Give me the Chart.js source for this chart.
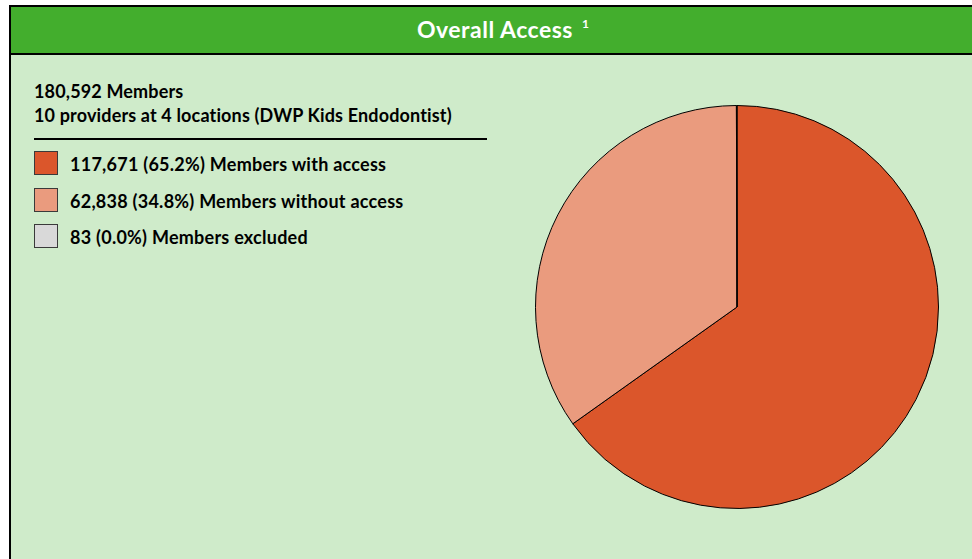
<!DOCTYPE html>
<html>
<head>
<meta charset="utf-8">
<script src="https://cdn.jsdelivr.net/npm/chart.js@4/dist/chart.umd.min.js"></script>
<style>
  html, body { margin: 0; padding: 0; }
  body { width: 972px; height: 559px; overflow: hidden; background: #fff; position: relative;
         font-family: Lato, "Open Sans", sans-serif; font-weight: bold; color: #000; }
  .panel { position: absolute; left: 9px; top: 5px; width: 990px; height: 600px;
           background: #cfebca; border-left: 2px solid #000; border-top: 2px solid #000; }
  .header { position: absolute; left: 9px; top: 7px; width: 990px; height: 46px;
            background: #43ae2d; border-left: 2px solid #000; border-bottom: 2px solid #000; }
  .title { position: absolute; left: 417px; top: 18px; font-size: 23px; letter-spacing: 0.5px;
           line-height: 1; color: #fff; white-space: nowrap; }
  .title sup { font-size: 12px; vertical-align: 0; position: relative; top: -10px; margin-left: 9px; }
  .txt { position: absolute; left: 34px; font-size: 18px; letter-spacing: 0.15px; line-height: 1; white-space: nowrap; }
  .rule { position: absolute; left: 34px; top: 138px; width: 453px; height: 2px; background: #000; }
  .box { position: absolute; left: 34px; width: 22px; height: 22px; border: 1px solid #3a3a3a; }
  .leg { position: absolute; left: 70px; font-size: 18px; letter-spacing: 0.25px; line-height: 1; white-space: nowrap; }
  #pieWrap { position: absolute; left: 535px; top: 105px; width: 404px; height: 404px; }
</style>
</head>
<body>
<div class="panel"></div>
<div class="header"></div>
<div class="title">Overall Access<sup>1</sup></div>
<div class="txt" style="top:82px">180,592 Members</div>
<div class="txt" style="top:106px">10 providers at 4 locations (DWP Kids Endodontist)</div>
<div class="rule"></div>
<div id="legend"></div>
<div id="pieWrap"><canvas id="pie"></canvas></div>

<script>
// data
const labels = ['Members with access', 'Members without access', 'Members excluded'];
const members = [117671, 62838, 83];
const percents = ['65.2%', '34.8%', '0.0%'];
const colors = ['#db562b', '#ea9b7e', '#d9d9d9'];

// legend
const legendEl = document.getElementById('legend');
const legTops = [151, 188, 224];
labels.forEach((lab, i) => {
  const box = document.createElement('div');
  box.className = 'box';
  box.style.top = legTops[i] + 'px';
  box.style.background = colors[i];
  legendEl.appendChild(box);

  const t = document.createElement('div');
  t.className = 'leg';
  t.style.top = (legTops[i] + 4) + 'px';
  t.textContent = `${members[i].toLocaleString('en-US')} (${percents[i]}) ${lab}`;
  legendEl.appendChild(t);
});

// pie
new Chart(document.getElementById('pie'), {
  type: 'pie',
  data: {
    labels,
    datasets: [{
      data: members,
      backgroundColor: colors,
      borderColor: '#000',
      borderWidth: 1
    }]
  },
  options: {
    responsive: true,
    maintainAspectRatio: false,
    animation: false,
    layout: { padding: 0 },
    plugins: { legend: { display: false }, tooltip: { enabled: false } }
  }
});
</script>
</body>
</html>
